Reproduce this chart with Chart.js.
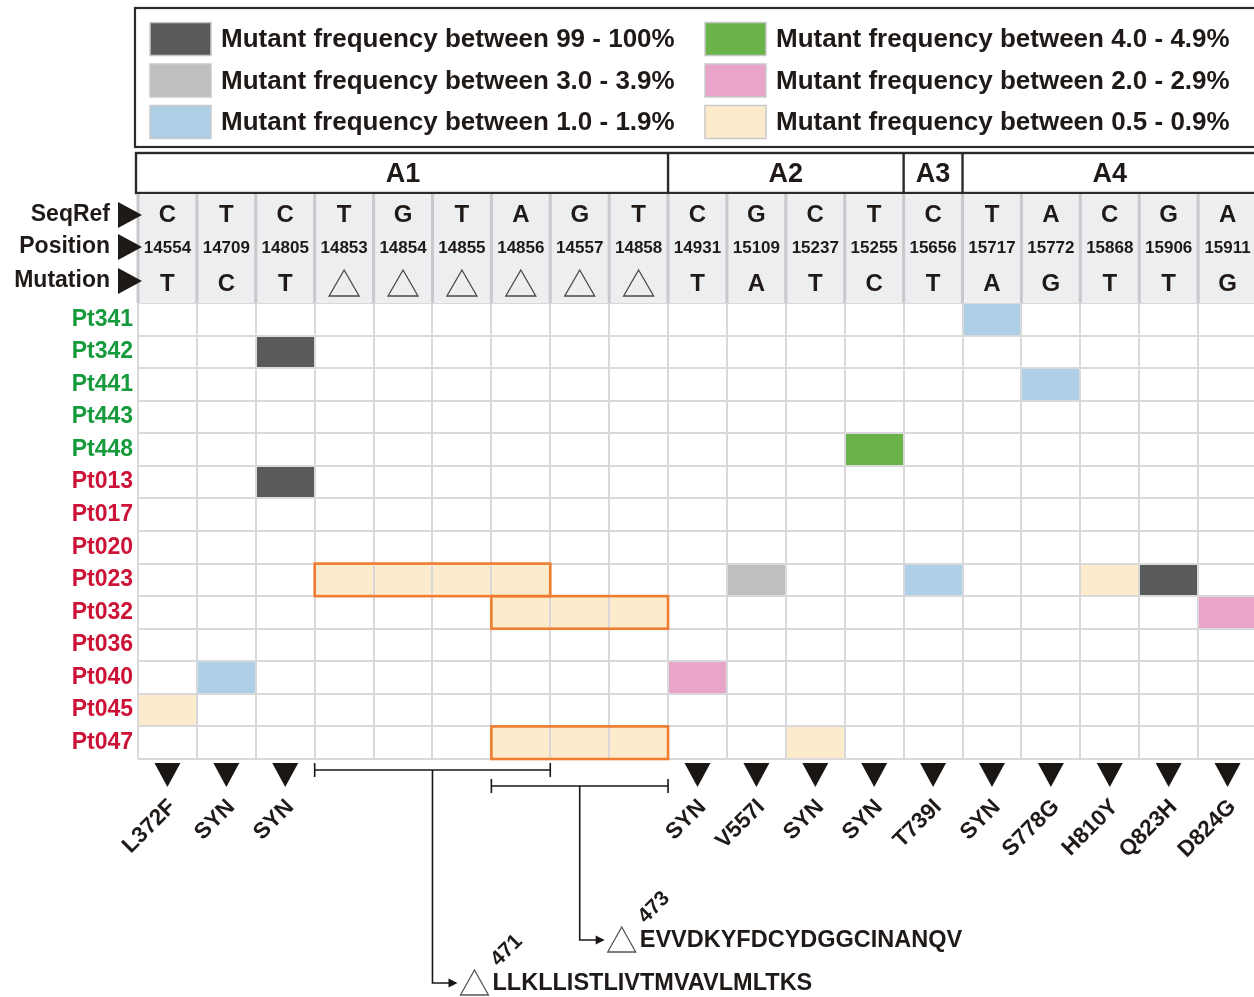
<!DOCTYPE html>
<html>
<head>
<meta charset="utf-8">
<script src="https://cdn.jsdelivr.net/npm/chart.js@4.4.1/dist/chart.umd.min.js"></script>
<style>
  html, body { margin: 0; padding: 0; background: #ffffff; overflow: hidden; }
  #wrap { width: 1257px; height: 997px; }
</style>
</head>
<body>
<div id="wrap"><canvas id="chart" width="1257" height="997"></canvas></div>
<script>
// ---- genome regions and reference positions (columns) ----
const regionNames = ['A1', 'A2', 'A3', 'A4'];
const regionSizes = [9, 4, 1, 5];
const seqRef    = ['C','T','C','T','G','T','A','G','T','C','G','C','T','C','T','A','C','G','A'];
const positions = ['14554','14709','14805','14853','14854','14855','14856','14557','14858','14931','15109','15237','15255','15656','15717','15772','15868','15906','15911'];
const mutations = ['T','C','T','del','del','del','del','del','del','T','A','T','C','T','A','G','T','T','G'];
const effects   = ['L372F','SYN','SYN','','','','','','','SYN','V557I','SYN','SYN','T739I','SYN','S778G','H810Y','Q823H','D824G'];

// ---- patients (rows) ----
const patients     = ['Pt341','Pt342','Pt441','Pt443','Pt448','Pt013','Pt017','Pt020','Pt023','Pt032','Pt036','Pt040','Pt045','Pt047'];
const patientGroup = ['G','G','G','G','G','R','R','R','R','R','R','R','R','R'];

// ---- observed mutations per frequency class: [patient, position] ----
const freq99to100 = [['Pt342','14805'], ['Pt013','14805'], ['Pt023','15906']];
const freq30to39  = [['Pt023','15109']];
const freq10to19  = [['Pt341','15717'], ['Pt441','15772'], ['Pt023','15656'], ['Pt040','14709']];
const freq40to49  = [['Pt448','15255']];
const freq20to29  = [['Pt032','15911'], ['Pt040','14931']];
const freq05to09  = [['Pt045','14554'], ['Pt047','15237'], ['Pt023','15868']];

// ---- deletions (0.5 - 0.9 %): [patient, first position, last position] ----
const deletions = [['Pt023','14853','14856'], ['Pt032','14856','14858'], ['Pt047','14856','14858']];
const deletionSpans    = [['14853','14856'], ['14856','14858']];
const deletionStarts   = ['471', '473'];
const deletionPeptides = ['LLKLLISTLIVTMVAVLMLTKS', 'EVVDKYFDCYDGGCINANQV'];

// ---- styling ----
const FONT = '"Liberation Sans", Arial, Helvetica, sans-serif';
const INK = '#1f1a17';
const GRID = '#d9d9db';
const groupColor = { G: '#169b3c', R: '#cc1236' };

const col = p => positions.indexOf(p);
const toBars = list => list.map(([pt, pos]) => ({ y: pt, x: [col(pos), col(pos) + 1] }));
const delBars = deletions.map(([pt, a, b]) => ({ y: pt, x: [col(a), col(b) + 1] }));

const classes = [
  { label: 'Mutant frequency between 99 - 100%', color: '#595a5a', data: toBars(freq99to100) },
  { label: 'Mutant frequency between 3.0 - 3.9%', color: '#bfbfbf', data: toBars(freq30to39) },
  { label: 'Mutant frequency between 1.0 - 1.9%', color: '#aed0e6', data: toBars(freq10to19) },
  { label: 'Mutant frequency between 4.0 - 4.9%', color: '#6ab34a', data: toBars(freq40to49) },
  { label: 'Mutant frequency between 2.0 - 2.9%', color: '#e9a5c9', data: toBars(freq20to29) },
  { label: 'Mutant frequency between 0.5 - 0.9%', color: '#fdeccc', data: toBars(freq05to09).concat(delBars) }
];

// header, legend, region bar, bottom markers and deletion call-outs
const decor = {
  id: 'decor',
  afterDraw(chart) {
    const { ctx, scales: { x, y } } = chart;
    const L = i => x.getPixelForValue(i);
    const C = i => x.getPixelForValue(i + 0.5);
    const rowH = y.getPixelForValue(1) - y.getPixelForValue(0);
    const right = L(positions.length);
    ctx.save();

    // outlines of the deletion blocks
    ctx.strokeStyle = '#ee7d31';
    ctx.lineWidth = 2.6;
    deletions.forEach(([pt, a, b]) => {
      const yc = y.getPixelForValue(patients.indexOf(pt));
      const x0 = L(col(a)), x1 = L(col(b) + 1);
      ctx.strokeRect(x0, yc - rowH / 2, x1 - x0, rowH);
    });

    // legend box
    ctx.strokeStyle = '#2a2a2a';
    ctx.lineWidth = 2.2;
    ctx.strokeRect(135, 8, right + 20 - 135, 139);
    const ds = chart.data.datasets;
    ctx.font = 'bold 26px ' + FONT;
    ctx.textBaseline = 'middle';
    ctx.textAlign = 'left';
    ds.forEach((d, i) => {
      const c = Math.floor(i / 3), r = i % 3;
      const sx = c === 0 ? 150 : 705;
      const cy = 39 + r * 41.5;
      ctx.fillStyle = d.backgroundColor;
      ctx.fillRect(sx, cy - 16.5, 61, 33);
      ctx.strokeStyle = '#c9c9cb';
      ctx.lineWidth = 1.5;
      ctx.strokeRect(sx, cy - 16.5, 61, 33);
      ctx.fillStyle = INK;
      ctx.fillText(d.label, sx + 71, cy + 1);
    });

    // region bar
    ctx.strokeStyle = '#2a2a2a';
    ctx.lineWidth = 2.4;
    ctx.strokeRect(136, 153, right + 20 - 136, 40);
    let acc = 0;
    ctx.font = 'bold 27px ' + FONT;
    ctx.textAlign = 'center';
    regionNames.forEach((nm, i) => {
      const a = acc, b = acc + regionSizes[i];
      if (i > 0) {
        ctx.beginPath(); ctx.moveTo(L(a), 153); ctx.lineTo(L(a), 193); ctx.stroke();
      }
      ctx.fillStyle = INK;
      ctx.fillText(nm, (L(a) + L(b)) / 2, 174.5);
      acc = b;
    });

    // reference / position / mutation header
    ctx.fillStyle = '#edeef0';
    ctx.fillRect(L(0), 194, right - L(0), 303 - 194);
    ctx.strokeStyle = '#c8c9cc';
    ctx.lineWidth = 3;
    for (let i = 0; i <= positions.length; i++) {
      ctx.beginPath(); ctx.moveTo(L(i), 194); ctx.lineTo(L(i), 303); ctx.stroke();
    }
    ctx.fillStyle = INK;
    positions.forEach((p, i) => {
      ctx.font = 'bold 24px ' + FONT;
      ctx.fillText(seqRef[i], C(i), 215);
      ctx.font = 'bold 17px ' + FONT;
      ctx.fillText(p, C(i), 248);
      if (mutations[i] === 'del') {
        ctx.strokeStyle = '#4a4a4a';
        ctx.lineWidth = 1.3;
        ctx.beginPath();
        ctx.moveTo(C(i), 270); ctx.lineTo(C(i) + 15, 296); ctx.lineTo(C(i) - 15, 296); ctx.closePath();
        ctx.stroke();
      } else {
        ctx.font = 'bold 24px ' + FONT;
        ctx.fillText(mutations[i], C(i), 284);
      }
    });

    // row captions with pointers
    ctx.textAlign = 'right';
    ctx.font = 'bold 23px ' + FONT;
    [['SeqRef', 215], ['Position', 247], ['Mutation', 281]].forEach(([t, cy]) => {
      ctx.fillStyle = INK;
      ctx.fillText(t, 110, cy);
      ctx.beginPath();
      ctx.moveTo(118, cy - 13); ctx.lineTo(142, cy); ctx.lineTo(118, cy + 13); ctx.closePath();
      ctx.fill();
    });

    // markers below the grid for point mutations
    const gBottom = chart.chartArea.bottom;
    ctx.fillStyle = '#1a1614';
    effects.forEach((e, i) => {
      if (!e) return;
      ctx.beginPath();
      ctx.moveTo(C(i) - 13, gBottom + 4); ctx.lineTo(C(i) + 13, gBottom + 4); ctx.lineTo(C(i), gBottom + 28);
      ctx.closePath(); ctx.fill();
    });

    // deletion brackets and call-outs
    const bracketY = [770, 786];
    const calloutY = [983, 940];
    ctx.strokeStyle = '#1a1614';
    ctx.lineWidth = 1.6;
    deletionSpans.forEach(([a, b], k) => {
      const x0 = L(col(a)), x1 = L(col(b) + 1), mid = (x0 + x1) / 2;
      const by = bracketY[k], ey = calloutY[k];
      ctx.beginPath();
      ctx.moveTo(x0, by); ctx.lineTo(x1, by);
      ctx.moveTo(x0, by - 7); ctx.lineTo(x0, by + 7);
      ctx.moveTo(x1, by - 7); ctx.lineTo(x1, by + 7);
      ctx.moveTo(mid, by); ctx.lineTo(mid, ey); ctx.lineTo(mid + 18, ey);
      ctx.stroke();
      ctx.fillStyle = '#1a1614';
      ctx.beginPath();
      ctx.moveTo(mid + 25, ey); ctx.lineTo(mid + 16, ey - 4.5); ctx.lineTo(mid + 16, ey + 4.5); ctx.closePath();
      ctx.fill();
      // open triangle = deletion
      ctx.strokeStyle = '#555';
      ctx.lineWidth = 1.3;
      ctx.beginPath();
      ctx.moveTo(mid + 42, ey - 13); ctx.lineTo(mid + 56, ey + 12); ctx.lineTo(mid + 28, ey + 12); ctx.closePath();
      ctx.stroke();
      ctx.strokeStyle = '#1a1614';
      ctx.lineWidth = 1.6;
      ctx.fillStyle = INK;
      ctx.textAlign = 'left';
      ctx.textBaseline = 'middle';
      ctx.font = 'bold 23.5px ' + FONT;
      ctx.fillText(deletionPeptides[k], mid + 60, ey + 1);
      ctx.save();
      ctx.translate(mid + 66, ey - 16);
      ctx.rotate(-Math.PI / 4);
      ctx.font = 'bold 21px ' + FONT;
      ctx.textBaseline = 'alphabetic';
      ctx.fillText(deletionStarts[k], 0, 0);
      ctx.restore();
    });
    ctx.restore();
  }
};

new Chart(document.getElementById('chart'), {
  type: 'bar',
  data: {
    datasets: classes.map(c => ({
      label: c.label,
      data: c.data,
      backgroundColor: c.color,
      borderWidth: 0,
      borderSkipped: false,
      grouped: false,
      barPercentage: 1,
      categoryPercentage: 1
    }))
  },
  options: {
    indexAxis: 'y',
    responsive: false,
    animation: false,
    layout: { padding: { top: 303, right: 0, bottom: 0, left: 0 } },
    plugins: { legend: { display: false }, tooltip: { enabled: false } },
    scales: {
      x: {
        type: 'linear', position: 'bottom', min: 0, max: positions.length,
        ticks: { display: false, stepSize: 1 },
        grid: { color: GRID, lineWidth: 2, drawTicks: false, z: 1 },
        border: { display: false },
        afterFit: s => { s.height = 0; }
      },
      xEffect: {
        type: 'category', position: 'bottom', labels: effects, offset: true,
        grid: { display: false, drawTicks: false },
        border: { display: false },
        ticks: {
          autoSkip: false, minRotation: 45, maxRotation: 45, padding: 35, labelOffset: 5,
          color: INK, font: { family: FONT, size: 22.5, weight: 'bold' }
        },
        afterFit: s => { s.height = 238; s.paddingRight = 0; }
      },
      y: {
        type: 'category', labels: patients, offset: true,
        grid: { offset: true, color: GRID, lineWidth: 2, drawTicks: false, z: 1 },
        border: { display: false },
        ticks: {
          padding: 5,
          font: { family: FONT, size: 23, weight: 'bold' },
          color: c => groupColor[patientGroup[c.index]]
        },
        afterFit: s => { s.width = 138; }
      }
    }
  },
  plugins: [decor]
});
</script>
</body>
</html>
